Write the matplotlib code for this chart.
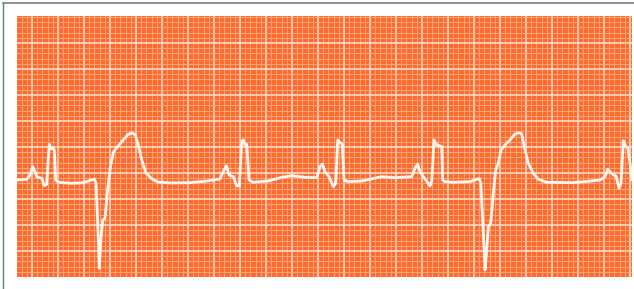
import numpy as np
import matplotlib
matplotlib.use("Agg")
import matplotlib.pyplot as plt
from matplotlib.lines import Line2D

# ECG strip in mm of chart paper
# (x: mm from the first heavy line, y: mm above the bottom edge)
t_mm = [-2.88, -1.02, -0.38, 0.13, 0.58, 0.90, 1.87, 2.37, 2.83, 3.13,
        3.33, 3.65, 3.98, 4.29, 4.56, 5.06, 7.63, 9.87, 11.98, 12.31,
        12.63, 12.94, 13.27, 13.60, 14.04, 14.56, 15.10, 15.67, 16.25, 16.92,
        17.69, 18.46, 19.23, 19.81, 20.44, 21.10, 21.92, 23.08, 24.23, 26.54,
        30.38, 33.60, 36.15, 36.73, 37.40, 37.88, 38.71, 39.37, 39.87, 40.33,
        40.63, 40.96, 41.29, 41.73, 42.56, 45.44, 48.02, 49.94, 52.50, 54.75,
        55.38, 55.83, 56.35, 57.12, 57.94, 58.40, 58.79, 59.23, 59.67, 60.00,
        60.83, 63.40, 67.25, 69.81, 73.02, 73.79, 74.17, 74.62, 75.25, 76.21,
        76.54, 76.87, 77.31, 77.83, 78.33, 78.79, 78.98, 79.42, 81.02, 84.23,
        86.02, 86.29, 86.67, 87.12, 87.44, 87.75, 88.21, 88.71, 89.17, 89.67,
        90.19, 90.96, 91.92, 92.88, 93.65, 94.17, 94.81, 95.44, 96.40, 97.37,
        98.98, 104.10, 109.23, 110.19, 110.71, 111.15, 111.79, 112.31, 112.88, 113.27,
        113.71, 114.17, 114.56, 115.00, 115.38]
v_mm = [18.65, 18.79, 19.62, 21.21, 20.25, 19.29, 18.98, 17.56, 17.83, 22.83,
        25.52, 24.62, 24.87, 24.42, 18.65, 18.21, 18.02, 18.13, 18.85, 18.02,
        10.63, 1.67, 7.50, 10.96, 11.29, 17.06, 21.35, 24.04, 24.81, 25.58,
        26.54, 27.40, 27.69, 27.40, 25.38, 22.50, 20.00, 18.85, 18.27, 18.08,
        18.13, 18.46, 18.85, 20.19, 21.40, 19.62, 19.29, 17.50, 17.56, 26.02,
        26.35, 25.38, 25.52, 18.65, 18.21, 18.46, 19.17, 19.48, 19.17, 19.10,
        21.21, 21.73, 20.25, 19.29, 17.37, 18.02, 26.35, 25.90, 25.58, 18.65,
        18.33, 18.46, 19.29, 19.10, 19.29, 21.21, 21.67, 20.25, 19.29, 18.02,
        17.50, 18.33, 26.35, 25.38, 25.25, 25.06, 18.65, 18.33, 18.21, 18.33,
        18.98, 18.02, 10.96, 1.35, 5.19, 9.67, 10.33, 16.10, 20.58, 21.87,
        24.42, 25.38, 26.35, 27.50, 27.75, 27.50, 24.42, 21.87, 19.94, 18.79,
        18.21, 18.13, 18.65, 19.29, 20.71, 20.25, 19.62, 19.42, 17.06, 18.02,
        26.21, 25.06, 24.94, 21.87, 18.65]

x_range = (-2.885, 115.38)
y_range = (0, 50.19)

paper = '#FF6B2E'
minor_col = '#FFAE85'
major_col = '#FFE4D4'
trace_col = '#FFF7F0'

fig = plt.figure(figsize=(6.34, 2.89), dpi=100)
ax = fig.add_axes([17 / 634, 12 / 289, 615 / 634, 261 / 289])
ax.set_facecolor(paper)

ax.set_xticks(np.arange(0, 116, 5))
ax.set_xticks(np.arange(-2, 116, 1), minor=True)
ax.set_yticks(np.arange(5, 50, 5))
ax.set_yticks(np.arange(1, 51, 1), minor=True)
ax.grid(which='minor', color=minor_col, linewidth=0.6)
ax.grid(which='major', color=major_col, linewidth=1.1)
ax.set_axisbelow(True)
ax.tick_params(which='both', length=0, labelbottom=False, labelleft=False)
for s in ax.spines.values():
    s.set_visible(False)

ax.plot(t_mm, v_mm, color=trace_col, linewidth=2.0,
        solid_joinstyle='round', solid_capstyle='round')
ax.set_xlim(*x_range)
ax.set_ylim(*y_range)

# scan border lines
fig.add_artist(Line2D([3 / 634, 1], [1 - 3 / 289, 1 - 3 / 289],
                      transform=fig.transFigure, color='#7d7d7d', linewidth=1.2))
fig.add_artist(Line2D([3 / 634, 3 / 634], [0, 1 - 3 / 289],
                      transform=fig.transFigure, color='#4f8a6c', linewidth=1.0))

fig.savefig('out.png', dpi=100)
